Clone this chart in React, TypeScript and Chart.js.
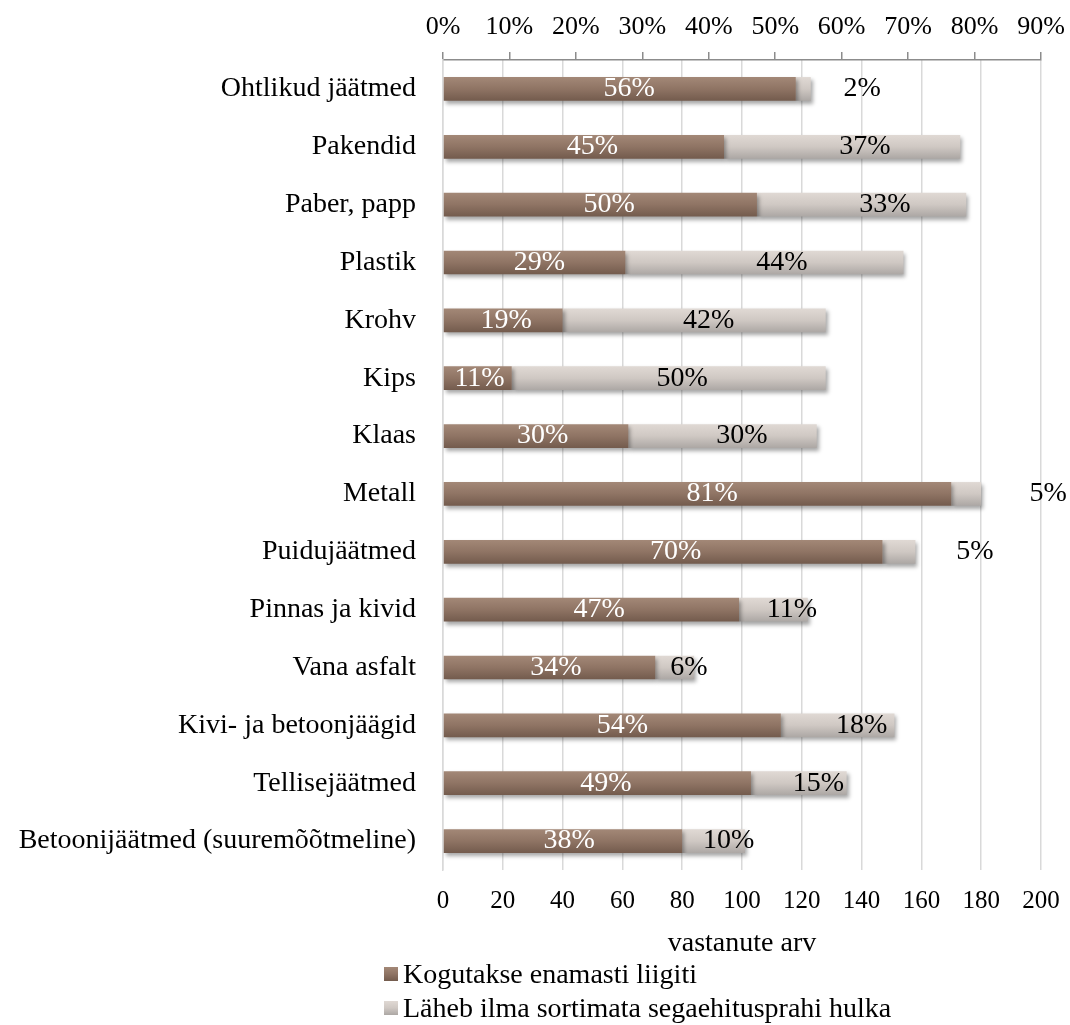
import React, { useEffect, useRef } from "react";
import { Chart, registerables } from "chart.js";

Chart.register(...registerables);

// ---- data ----
const categories = [
  "Ohtlikud jäätmed",
  "Pakendid",
  "Paber, papp",
  "Plastik",
  "Krohv",
  "Kips",
  "Klaas",
  "Metall",
  "Puidujäätmed",
  "Pinnas ja kivid",
  "Vana asfalt",
  "Kivi- ja betoonjäägid",
  "Tellisejäätmed",
  "Betoonijäätmed (suuremõõtmeline)",
];
const seriesNames = [
  "Kogutakse enamasti liigiti",
  "Läheb ilma sortimata segaehitusprahi hulka",
];
// respondent counts (bottom axis)
const sortedCounts = [118, 94, 105, 61, 40, 23, 62, 170, 147, 99, 71, 113, 103, 80];
const mixedCounts = [5, 79, 70, 93, 88, 105, 63, 10, 11, 23, 13, 38, 32, 21];
// shares (top axis, labels)
const sortedPct = [56, 45, 50, 29, 19, 11, 30, 81, 70, 47, 34, 54, 49, 38];
const mixedPct = [2, 37, 33, 44, 42, 50, 30, 5, 5, 11, 6, 18, 15, 10];
// axes
const countMax = 200;
const countStep = 20;
const pctMax = 90;
const pctStep = 10;
const countAxisTitle = "vastanute arv";

const FONT = '"Liberation Serif", "Times New Roman", serif';
const BAR_PCT = 0.41;
const darkStops = ["#a38877", "#8f7464", "#735b4d"];
const lightStops = ["#e0d9d4", "#cfc8c3", "#aca7a4"];

function barGradient(stops: string[]) {
  return (c: any) => {
    const chart = c.chart;
    const y = chart.scales && chart.scales.y;
    if (!y || !chart.chartArea || c.type !== "data") return stops[1];
    const center = y.getPixelForValue(c.dataIndex);
    const band = Math.abs(y.getPixelForValue(1) - y.getPixelForValue(0));
    const half = (band * BAR_PCT) / 2;
    const g = chart.ctx.createLinearGradient(0, center - half, 0, center + half);
    g.addColorStop(0, stops[0]);
    g.addColorStop(0.5, stops[1]);
    g.addColorStop(1, stops[2]);
    return g;
  };
}

const shadowPlugin = {
  id: "barShadow",
  beforeDatasetDraw(chart: any) {
    const ctx = chart.ctx;
    ctx.save();
    ctx.shadowColor = "rgba(0,0,0,0.35)";
    ctx.shadowBlur = 4;
    ctx.shadowOffsetX = 2;
    ctx.shadowOffsetY = 3;
  },
  afterDatasetDraw(chart: any) {
    chart.ctx.restore();
  },
};

const labelPlugin = {
  id: "pctLabels",
  afterDraw(chart: any) {
    const ctx = chart.ctx;
    const x2 = chart.scales.x2;
    const meta = chart.getDatasetMeta(0);
    ctx.save();
    ctx.font = `28px ${FONT}`;
    ctx.textBaseline = "middle";
    ctx.textAlign = "center";
    categories.forEach((_, i) => {
      const el = meta.data[i];
      if (!el) return;
      const y = el.y;
      const start = x2.getPixelForValue(0);
      const mid = x2.getPixelForValue(sortedPct[i]);
      const end = x2.getPixelForValue(sortedPct[i] + mixedPct[i]);
      ctx.fillStyle = "#ffffff";
      ctx.fillText(sortedPct[i] + "%", (start + mid) / 2, y);
      const t = mixedPct[i] + "%";
      const w = ctx.measureText(t).width;
      let cx = (mid + end) / 2;
      if (w > end - mid) cx = end + 15 + w / 2;
      ctx.fillStyle = "#000000";
      ctx.fillText(t, cx, y);
    });
    ctx.restore();
  },
};

function noSidePadding(s: any) {
  s.paddingLeft = 0;
  s.paddingRight = 0;
}

export default function App() {
  const canvasRef = useRef<HTMLCanvasElement | null>(null);

  useEffect(() => {
    if (!canvasRef.current) return;
    const chart = new Chart(canvasRef.current, {
      type: "bar",
      data: {
        labels: categories,
        datasets: [
          {
            label: seriesNames[0],
            data: sortedCounts,
            backgroundColor: barGradient(darkStops),
            borderWidth: 0,
            barPercentage: BAR_PCT,
            categoryPercentage: 1,
            xAxisID: "x",
            yAxisID: "y",
          },
          {
            label: seriesNames[1],
            data: mixedCounts,
            backgroundColor: barGradient(lightStops),
            borderWidth: 0,
            barPercentage: BAR_PCT,
            categoryPercentage: 1,
            xAxisID: "x",
            yAxisID: "y",
          },
        ],
      },
      options: {
        indexAxis: "y",
        animation: false,
        responsive: true,
        maintainAspectRatio: false,
        layout: { padding: { left: 0, right: 29, top: 0, bottom: 65 } },
        plugins: {
          legend: { display: false },
          tooltip: { enabled: false },
        },
        scales: {
          x: {
            type: "linear",
            position: "bottom",
            stacked: true,
            min: 0,
            max: countMax,
            ticks: {
              stepSize: countStep,
              color: "#000",
              font: { family: FONT, size: 25 },
              padding: 16,
            },
            grid: {
              color: "#d9d9d9",
              lineWidth: 1.5,
              drawTicks: false,
            },
            border: { display: false },
            title: {
              display: true,
              text: countAxisTitle,
              color: "#000",
              font: { family: FONT, size: 28 },
              padding: 0,
            },
            afterFit: (s: any) => {
              s.height = 90;
              noSidePadding(s);
            },
          },
          x2: {
            type: "linear",
            position: "top",
            min: 0,
            max: pctMax,
            ticks: {
              stepSize: pctStep,
              color: "#000",
              font: { family: FONT, size: 26 },
              padding: 9,
              callback: (v: any) => v + "%",
            },
            grid: {
              drawOnChartArea: false,
              drawTicks: true,
              tickLength: 8,
              color: "#8c8c8c",
              lineWidth: 1.5,
            },
            border: { display: true, color: "#8c8c8c", width: 1.5 },
            afterFit: (s: any) => {
              s.height = 60;
              noSidePadding(s);
            },
          },
          y: {
            type: "category",
            stacked: true,
            ticks: {
              color: "#000",
              font: { family: FONT, size: 28 },
              padding: 27,
            },
            grid: { display: false, drawTicks: false },
            border: { display: true, color: "#d9d9d9", width: 1.5 },
            afterFit: (s: any) => {
              s.width = 443;
              s.paddingTop = 0;
              s.paddingBottom = 0;
            },
          },
        },
      },
      plugins: [shadowPlugin, labelPlugin],
    } as any);
    return () => chart.destroy();
  }, []);

  const legendColors = [
    `linear-gradient(${darkStops[0]}, ${darkStops[1]}, ${darkStops[2]})`,
    `linear-gradient(${lightStops[0]}, ${lightStops[1]}, ${lightStops[2]})`,
  ];

  return (
    <div
      style={{
        position: "fixed",
        left: 0,
        top: 0,
        width: 1070,
        height: 1025,
        background: "#fff",
        overflow: "hidden",
      }}
    >
      <canvas ref={canvasRef} style={{ position: "absolute", left: 0, top: 0 }} />
      <div
        style={{
          position: "absolute",
          left: 384,
          top: 957,
          fontFamily: FONT,
          fontSize: 28,
          lineHeight: "34px",
          color: "#000",
        }}
      >
        {seriesNames.map((name, i) => (
          <div key={name} style={{ display: "flex", alignItems: "center", height: 34, whiteSpace: "nowrap" }}>
            <span
              style={{
                display: "inline-block",
                width: 14,
                height: 14,
                marginRight: 5,
                background: legendColors[i],
              }}
            />
            <span>{name}</span>
          </div>
        ))}
      </div>
    </div>
  );
}
